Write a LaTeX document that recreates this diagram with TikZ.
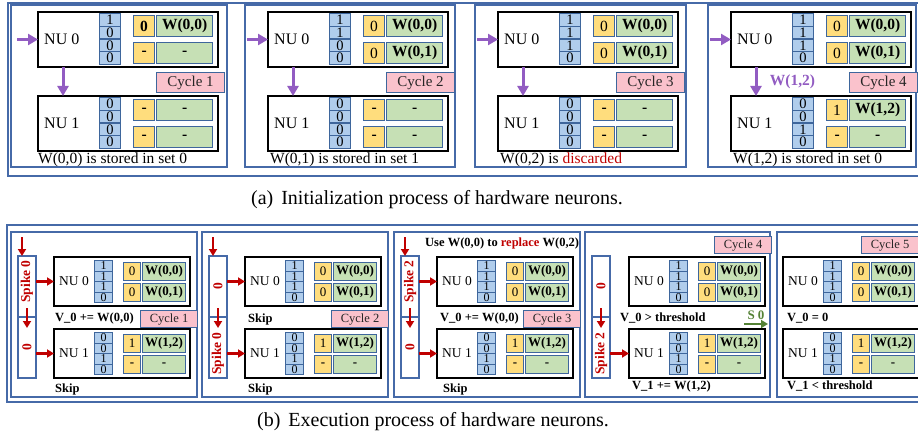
\documentclass[tikz,border=0pt]{standalone}
\usepackage{fontspec}
\setmainfont{Liberation Serif}
\usetikzlibrary{arrows.meta, positioning, calc}

\definecolor{frameblue}{RGB}{70,106,168}
\definecolor{cellblue}{RGB}{62,102,156}
\definecolor{bitblue}{RGB}{176,205,236}
\definecolor{tagyellow}{RGB}{255,221,125}
\definecolor{wgreen}{RGB}{198,224,181}
\definecolor{cyclepink}{RGB}{250,194,204}
\definecolor{nupurple}{RGB}{146,92,194}
\definecolor{spikered}{RGB}{192,0,0}
\definecolor{sgreen}{RGB}{84,130,53}

\newcommand{\nudash}{\textbf{-}}

% sizes of a neuron unit in the top row
\newcommand{\toprowsize}{%
  \def\nuW{180}\def\nuH{55}\def\nuLx{6}%
  \def\bitX{61}\def\bitY{1}\def\bitW{21}\def\bitH{12.75}%
  \def\tagX{95}\def\tagW{21}\def\wX{118}\def\wW{56}%
  \def\rowA{3}\def\rowB{30}\def\rowH{21}%
  \def\cycW{68}\def\cycH{20}%
  \def\nufont{\fontsize{16}{16}\selectfont}%
  \def\bitfont{\fontsize{14.5}{14.5}\selectfont}%
  \def\cellfont{\fontsize{15.5}{15.5}\selectfont}%
  \def\cycfont{\fontsize{15}{15}\selectfont}%
  \def\notefont{\fontsize{15.5}{15.5}\selectfont}}
% sizes of a neuron unit in the bottom row
\newcommand{\botrowsize}{%
  \def\nuW{136}\def\nuH{49}\def\nuLx{5}%
  \def\bitX{40}\def\bitY{3}\def\bitW{18}\def\bitH{10.5}%
  \def\tagX{69}\def\tagW{17}\def\wX{88}\def\wW{43}%
  \def\rowA{5}\def\rowB{26}\def\rowH{18}%
  \def\cycW{57}\def\cycH{17}%
  \def\nufont{\fontsize{13.5}{13.5}\selectfont}%
  \def\bitfont{\fontsize{12}{12}\selectfont}%
  \def\cellfont{\fontsize{13}{13}\selectfont}%
  \def\cycfont{\fontsize{12.5}{12.5}\selectfont}%
  \def\notefont{\bfseries\fontsize{12.5}{12.5}\selectfont}}

% one hardware neuron: name, x, y, label, bits, tag 1, weight 1, tag 2, weight 2
\newcommand{\nuunit}[9]{%
  \node[nubox, minimum width=\nuW, minimum height=\nuH] (#1) at (#2,#3) {};
  \node[nulabel] (#1-l) at ($(#1.west)+(\nuLx,0)$) {#4};
  \foreach \bv [count=\bi] in {#5}
    \node[bitcell, minimum width=\bitW, minimum height=\bitH] (#1-b\bi) at (#2+\bitX,#3+\bitY+\bi*\bitH-\bitH) {\bv};
  \node[tagcell, minimum width=\tagW, minimum height=\rowH] (#1-t1) at (#2+\tagX,#3+\rowA) {#6};
  \node[wcell, minimum width=\wW, minimum height=\rowH] (#1-w1) at (#2+\wX,#3+\rowA) {#7};
  \node[tagcell, minimum width=\tagW, minimum height=\rowH] (#1-t2) at (#2+\tagX,#3+\rowB) {#8};
  \node[wcell, minimum width=\wW, minimum height=\rowH] (#1-w2) at (#2+\wX,#3+\rowB) {#9};
}

\begin{document}
\begin{tikzpicture}[x=1pt, y=-1pt,
    frame/.style={draw=frameblue, line width=1.3pt, inner sep=0pt, outer sep=0pt, anchor=north west},
    nubox/.style={draw=black, line width=1.6pt, fill=white, inner sep=0pt, outer sep=0pt, anchor=north west},
    nulabel/.style={anchor=west, inner sep=0pt, font=\nufont},
    bitcell/.style={draw=cellblue, line width=1.1pt, fill=bitblue, inner sep=0pt, anchor=north west, font=\bitfont},
    tagcell/.style={draw=cellblue, line width=1.2pt, fill=tagyellow, inner sep=0pt, anchor=north west, font=\cellfont},
    wcell/.style={draw=cellblue, line width=1.2pt, fill=wgreen, inner sep=0pt, anchor=north west, font=\bfseries\cellfont},
    cyclebox/.style={draw=cellblue, line width=1.2pt, fill=cyclepink, inner sep=0pt, anchor=north west,
      minimum width=\cycW, minimum height=\cycH, text=black!85, font=\cycfont},
    notetext/.style={anchor=base west, inner sep=0pt, font=\notefont},
    spikecol/.style={draw=frameblue, line width=1.1pt, fill=white, inner sep=0pt, outer sep=0pt, anchor=north west,
      minimum width=18, minimum height=61},
    spiketext/.style={rotate=90, inner sep=0pt, text=spikered, font=\bfseries\fontsize{13.5}{13.5}\selectfont},
    purplearr/.style={-{Triangle[length=10pt,width=11pt]}, draw=nupurple, line width=3pt},
    redarr/.style={-{Triangle[length=7pt,width=8pt]}, draw=spikered, line width=2.6pt},
    greenarr/.style={-{Triangle[length=7pt,width=8pt]}, draw=sgreen, line width=2.6pt},
    caption/.style={anchor=base, inner sep=0pt, font=\fontsize{20}{20}\selectfont}
  ]
  \useasboundingbox (0,0) rectangle (918,441);
  \fill[white] (0,0) rectangle (918,441);
  \clip (0,0) rectangle (918,441);

  % (a) initialization
  \toprowsize
  \node[frame, minimum width=912, minimum height=173] (rowa) at (8,3) {};
  \node[frame, minimum width=216, minimum height=162] (pa1) at (11,5) {};
  \node[frame, minimum width=210, minimum height=162] (pa2) at (245,5) {};
  \node[frame, minimum width=211, minimum height=162] (pa3) at (475,5) {};
  \node[frame, minimum width=208, minimum height=162] (pa4) at (708,5) {};

  % cycle 1
  \nuunit{a1n0}{38}{12}{NU 0}{1,0,0,0}{\textbf{0}}{W(0,0)}{\nudash}{-}
  \nuunit{a1n1}{38}{96}{NU 1}{0,0,0,0}{\nudash}{-}{\nudash}{-}
  \node[cyclebox] (a1cy) at (156,72) {Cycle 1};
  \coordinate[left=21pt of a1n0.west] (a1in);
  \draw[purplearr] (a1in) -- (a1n0.west);
  \draw[purplearr] ($(a1n0.south west)+(25,0)$) -- ($(a1n1.north west)+(25,0)$);
  \node[notetext] (a1txt) at (38,164) {W(0,0) is stored in set 0};

  % cycle 2
  \nuunit{a2n0}{268}{12}{NU 0}{1,1,0,0}{0}{W(0,0)}{0}{W(0,1)}
  \nuunit{a2n1}{268}{96}{NU 1}{0,0,0,0}{\nudash}{-}{\nudash}{-}
  \node[cyclebox] (a2cy) at (386,72) {Cycle 2};
  \coordinate[left=21pt of a2n0.west] (a2in);
  \draw[purplearr] (a2in) -- (a2n0.west);
  \draw[purplearr] ($(a2n0.south west)+(25,0)$) -- ($(a2n1.north west)+(25,0)$);
  \node[notetext] (a2txt) at (270,164) {W(0,1) is stored in set 1};

  % cycle 3
  \nuunit{a3n0}{498}{12}{NU 0}{1,1,1,0}{0}{W(0,0)}{0}{W(0,1)}
  \nuunit{a3n1}{498}{96}{NU 1}{0,0,0,0}{\nudash}{-}{\nudash}{-}
  \node[cyclebox] (a3cy) at (616,72) {Cycle 3};
  \coordinate[left=21pt of a3n0.west] (a3in);
  \draw[purplearr] (a3in) -- (a3n0.west);
  \draw[purplearr] ($(a3n0.south west)+(25,0)$) -- ($(a3n1.north west)+(25,0)$);
  \node[notetext] (a3txt) at (500,164) {W(0,2) is \textcolor{spikered}{discarded}};

  % cycle 4
  \nuunit{a4n0}{731}{12}{NU 0}{1,1,1,0}{0}{W(0,0)}{0}{W(0,1)}
  \nuunit{a4n1}{731}{96}{NU 1}{0,0,1,0}{1}{W(1,2)}{\nudash}{-}
  \node[cyclebox] (a4cy) at (849,72) {Cycle 4};
  \coordinate[left=21pt of a4n0.west] (a4in);
  \draw[purplearr] (a4in) -- (a4n0.west);
  \draw[purplearr] ($(a4n0.south west)+(25,0)$) -- ($(a4n1.north west)+(25,0)$)
    node[midway, anchor=west, xshift=9pt, text=nupurple, font=\bfseries\cellfont] (a4w) {W(1,2)};
  \node[notetext] (a4txt) at (733,164) {W(1,2) is stored in set 0};

  \node[caption] (capa) at (437,204) {(a)\hspace{0.4em}Initialization process of hardware neurons.};

  % (b) execution
  \botrowsize
  \node[frame, minimum width=913, minimum height=177] (rowb) at (7,225) {};
  \node[frame, minimum width=186, minimum height=165] (pb1) at (11,232) {};
  \node[frame, minimum width=186, minimum height=165] (pb2) at (202,232) {};
  \node[frame, minimum width=186, minimum height=165] (pb3) at (394,232) {};
  \node[frame, minimum width=185, minimum height=165] (pb4) at (585,232) {};
  \node[frame, minimum width=150, minimum height=165] (pb5) at (777,232) {};

  % cycle 1
  \node[spikecol] (b1top) at (18,256) {};
  \node[spikecol] (b1bot) at (18,317) {};
  \node[spiketext] (b1s0) at ($(b1top)+(0,-5)$) {Spike 0};
  \node[spiketext] (b1s1) at (b1bot) {0};
  \nuunit{b1n0}{54}{257}{NU 0}{1,1,1,0}{0}{W(0,0)}{0}{W(0,1)}
  \nuunit{b1n1}{54}{329}{NU 1}{0,0,1,0}{1}{W(1,2)}{\nudash}{-}
  \node[cyclebox] (b1cy) at (140,310) {Cycle 1};
  \coordinate (b1in) at (22,237);
  \draw[redarr] (b1in) -- (b1in |- b1top.north);
  \draw[redarr] ($(b1top.south)+(0,-9)$) -- ($(b1top.south)+(0,11)$);
  \draw[redarr] (b1top.east |- b1n0.west) -- (b1n0.west);
  \draw[redarr] (b1bot.east |- b1n1.west) -- (b1n1.west);
  \node[notetext] (b1v) at (55,321) {V\_0 += W(0,0)};
  \node[notetext] (b1k) at (55,392) {Skip};

  % cycle 2
  \node[spikecol] (b2top) at (209,256) {};
  \node[spikecol] (b2bot) at (209,317) {};
  \node[spiketext] (b2s0) at (b2top) {0};
  \node[spiketext] (b2s1) at ($(b2bot)+(0,6)$) {Spike 0};
  \nuunit{b2n0}{245}{257}{NU 0}{1,1,1,0}{0}{W(0,0)}{0}{W(0,1)}
  \nuunit{b2n1}{245}{329}{NU 1}{0,0,1,0}{1}{W(1,2)}{\nudash}{-}
  \node[cyclebox] (b2cy) at (331,310) {Cycle 2};
  \coordinate (b2in) at (213,237);
  \draw[redarr] (b2in) -- (b2in |- b2top.north);
  \draw[redarr] ($(b2top.south)+(0,-9)$) -- ($(b2top.south)+(0,11)$);
  \draw[redarr] (b2top.east |- b2n0.west) -- (b2n0.west);
  \draw[redarr] (b2bot.east |- b2n1.west) -- (b2n1.west);
  \node[notetext] (b2v) at (248,322) {Skip};
  \node[notetext] (b2k) at (248,392) {Skip};

  % cycle 3
  \node[spikecol] (b3top) at (401,256) {};
  \node[spikecol] (b3bot) at (401,317) {};
  \node[spiketext] (b3s0) at ($(b3top)+(0,-5)$) {Spike 2};
  \node[spiketext] (b3s1) at (b3bot) {0};
  \nuunit{b3n0}{437}{257}{NU 0}{1,1,1,0}{0}{W(0,0)}{0}{W(0,1)}
  \nuunit{b3n1}{437}{329}{NU 1}{0,0,1,0}{1}{W(1,2)}{\nudash}{-}
  \node[cyclebox] (b3cy) at (523,310) {Cycle 3};
  \coordinate (b3in) at (405,237);
  \draw[redarr] (b3in) -- (b3in |- b3top.north);
  \draw[redarr] ($(b3top.south)+(0,-9)$) -- ($(b3top.south)+(0,11)$);
  \draw[redarr] (b3top.east |- b3n0.west) -- (b3n0.west);
  \draw[redarr] (b3bot.east |- b3n1.west) -- (b3n1.west);
  \node[notetext] (b3u) at (425,246) {Use W(0,0) to \textcolor{spikered}{replace} W(0,2)};
  \node[notetext] (b3v) at (440,321) {V\_0 += W(0,0)};
  \node[notetext] (b3k) at (443,392) {Skip};

  % cycle 4
  \node[spikecol] (b4top) at (592,256) {};
  \node[spikecol] (b4bot) at (592,317) {};
  \node[spiketext] (b4s0) at (b4top) {0};
  \node[spiketext] (b4s1) at ($(b4bot)+(0,6)$) {Spike 2};
  \nuunit{b4n0}{629}{257}{NU 0}{1,1,1,0}{0}{W(0,0)}{0}{W(0,1)}
  \nuunit{b4n1}{629}{329}{NU 1}{0,0,1,0}{1}{W(1,2)}{\nudash}{-}
  \node[cyclebox] (b4cy) at (714,236) {Cycle 4};
  \draw[redarr] ($(b4top.south)+(0,-9)$) -- ($(b4top.south)+(0,11)$);
  \draw[redarr] (b4bot.east |- b4n1.west) -- (b4n1.west);
  \node[notetext] (b4v) at (620,321) {V\_0 > threshold};
  \node[notetext] (b4k) at (632,389) {V\_1 += W(1,2)};
  \coordinate (b4s) at (744,324);
  \coordinate (b4e) at (768,324);
  \draw[greenarr] (b4s) -- (b4e)
    node[midway, above=3pt, inner sep=0pt, text=sgreen, font=\bfseries\fontsize{13}{13}\selectfont] (b4sl) {S 0};

  % cycle 5
  \nuunit{b5n0}{783}{257}{NU 0}{1,1,1,0}{0}{W(0,0)}{0}{W(0,1)}
  \nuunit{b5n1}{783}{329}{NU 1}{0,0,1,0}{1}{W(1,2)}{\nudash}{-}
  \node[cyclebox] (b5cy) at (861,236) {Cycle 5};
  \node[notetext] (b5v) at (787,321) {V\_0 = 0};
  \node[notetext] (b5k) at (787,389) {V\_1 < threshold};

  \node[caption] (capb) at (433,426) {(b)\hspace{0.4em}Execution process of hardware neurons.};
\end{tikzpicture}
\end{document}
